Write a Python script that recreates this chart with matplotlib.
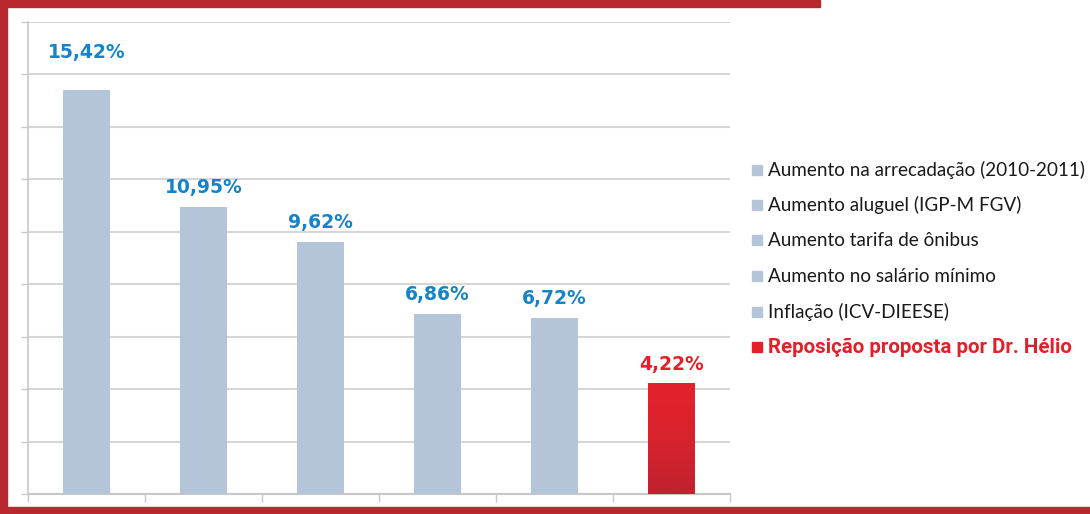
import numpy as np
import matplotlib.pyplot as plt
from matplotlib.patches import Rectangle
from matplotlib.colors import LinearSegmentedColormap

# data
categories = ['Aumento na arrecadação (2010-2011)', 'Aumento aluguel (IGP-M FGV)',
              'Aumento tarifa de ônibus', 'Aumento no salário mínimo',
              'Inflação (ICV-DIEESE)', 'Reposição proposta por Dr. Hélio']
values = [15.42, 10.95, 9.62, 6.86, 6.72, 4.22]

bar_blue = '#b4c5da'
red = '#e3202a'
frame_red = '#b9272f'
label_blue = '#1583c8'

W, H = 1090, 514
fig = plt.figure(figsize=(W / 100, H / 100), dpi=100)
ax = fig.add_axes([28 / W, 20 / H, 702 / W, 472 / H])

x = np.arange(len(values)) + 0.5
colors = [bar_blue] * 5 + [red]
bars = ax.bar(x, values, width=0.4, color=colors, zorder=3)

# gradient on the red bar
rb = bars[-1]
grad = np.linspace(0, 1, 100).reshape(-1, 1)
cmap = LinearSegmentedColormap.from_list('r', ['#c0222f', '#d8222c', '#e3222b'])
im = ax.imshow(grad, cmap=cmap, aspect='auto', origin='lower', zorder=4,
               extent=[rb.get_x(), rb.get_x() + rb.get_width(), 0, rb.get_height()])
im.set_clip_path(rb)

ax.set_xlim(0, 6)
ax.set_ylim(0, 18)
ax.set_xticks(np.arange(0, 7))
ax.set_yticks(np.arange(0, 19, 2))
ax.set_xticklabels([])
ax.set_yticklabels([])
ax.tick_params(axis='x', length=6, width=1, color='#c8c8c8', direction='out')
ax.tick_params(axis='y', length=5, width=1, color='#c8c8c8', direction='out')
ax.grid(axis='y', color='#d6d6d6', linewidth=1.5, zorder=0)
for s in ['top', 'right']:
    ax.spines[s].set_visible(False)
ax.spines['left'].set_color('#c8c8c8')
ax.spines['bottom'].set_color('#c8c8c8')
ax.spines['left'].set_linewidth(1.2)
ax.spines['bottom'].set_linewidth(1.5)

# value labels
offsets = [20, 7, 7, 7, 7, 7]
for i, v in enumerate(values):
    txt = f'{v:.2f}'.replace('.', ',') + '%'
    ax.annotate(txt, (x[i], v), xytext=(0, offsets[i]), textcoords='offset points',
                ha='center', va='bottom', fontsize=13.5, fontweight='bold',
                color=red if i == 5 else label_blue, family='DejaVu Sans')

# legend
ys = [170, 205, 240, 276, 312, 347]
for i, (c, yy) in enumerate(zip(categories, ys)):
    last = i == len(categories) - 1
    fig.patches.append(Rectangle((752 / W, 1 - (yy + 5) / H), 10 / W, 10 / H,
                                 transform=fig.transFigure,
                                 color=red if last else bar_blue))
    fig.text(768 / W, 1 - yy / H, c, va='center', ha='left',
             fontsize=13.6 if not last else 14.8,
             fontweight='bold' if last else 'normal',
             color=red if last else '#1a1a1a',
             family='Roboto' if last else 'Lato')

# red frame
fig.patches.append(Rectangle((0, 0), 7 / W, 1, transform=fig.transFigure, color=frame_red))
fig.patches.append(Rectangle((0, 1 - 7 / H), 820 / W, 7 / H, transform=fig.transFigure, color=frame_red))
fig.patches.append(Rectangle((0, 0), 1, 7 / H, transform=fig.transFigure, color=frame_red))

fig.savefig('out.png', dpi=100)
